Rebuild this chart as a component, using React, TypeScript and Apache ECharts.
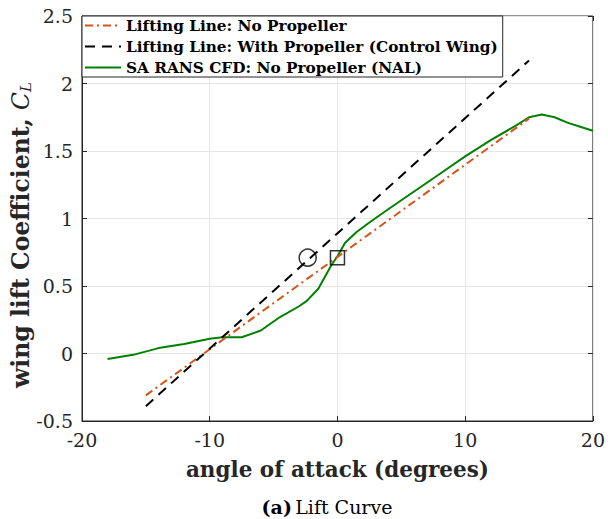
import React, { useEffect, useRef } from "react";
import * as echarts from "echarts";

const llNoProp: number[][] = [[-15, -0.31], [15, 1.74]];
const llWithProp: number[][] = [[-15, -0.39], [15, 2.17]];
const cfdNoProp: number[][] = [
  [-18, -0.04], [-16, -0.01], [-14, 0.04], [-12, 0.07], [-10, 0.11], [-9, 0.12],
  [-7.5, 0.12], [-6, 0.17], [-4.5, 0.27], [-3, 0.35], [-2.4, 0.39], [-1.5, 0.48],
  [-0.5, 0.65], [0, 0.72], [0.6, 0.82], [1.5, 0.9], [2.5, 0.97], [4, 1.07],
  [6, 1.2], [8, 1.33], [10, 1.46], [12, 1.58], [14, 1.69], [15, 1.75], [16, 1.77],
  [17, 1.75], [18, 1.71], [19, 1.68], [20, 1.65],
];
const circleMarker: number[][] = [[-2.33, 0.71]];
const squareMarker: number[][] = [[0, 0.71]];
const seriesNames = [
  "Lifting Line: No Propeller",
  "Lifting Line: With Propeller (Control Wing)",
  "SA RANS CFD: No Propeller (NAL)",
];

const FONT = "'DejaVu Serif', serif";

export default function App() {
  const ref = useRef<HTMLDivElement>(null);
  useEffect(() => {
    if (!ref.current) return;
    const chart = echarts.init(ref.current, undefined, { renderer: "svg" });
    const tickLabel = { fontFamily: FONT, fontSize: 19, color: "#262626" };
    chart.setOption({
      animation: false,
      backgroundColor: "#fff",
      grid: { left: 82, right: 12, top: 16, bottom: 98, show: true, borderColor: "#262626", borderWidth: 1, backgroundColor: "transparent" },
      legend: {
        data: seriesNames,
        orient: "vertical",
        left: 82,
        top: 16,
        itemWidth: 36,
        itemHeight: 14,
        itemGap: 6,
        padding: [2, 5, 2, 2],
        backgroundColor: "#fff",
        borderColor: "#262626",
        borderWidth: 1,
        itemStyle: { opacity: 0 },
        textStyle: { fontFamily: FONT, fontSize: 15.3, fontWeight: "bold", color: "#000" },
      },
      xAxis: [
        {
          type: "value", min: -20, max: 20, interval: 10,
          axisLine: { show: true, onZero: false, lineStyle: { color: "#262626" } },
          axisTick: { show: true, inside: true, length: 5, lineStyle: { color: "#262626" } },
          axisLabel: { ...tickLabel, margin: 9 },
          splitLine: { show: true, lineStyle: { color: "#e6e6e6" } },
          name: "angle of attack (degrees)",
          nameLocation: "middle",
          nameGap: 37,
          nameTextStyle: { fontFamily: FONT, fontSize: 21.5, fontWeight: "bold", color: "#262626" },
        },
        {
          type: "value", position: "top", min: -20, max: 20, interval: 10,
          axisLine: { show: false, onZero: false },
          axisTick: { show: true, inside: true, length: 5, lineStyle: { color: "#262626" } },
          axisLabel: { show: false },
          splitLine: { show: false },
        },
      ],
      yAxis: [
        {
          type: "value", min: -0.5, max: 2.5, interval: 0.5,
          axisLine: { show: true, onZero: false, lineStyle: { color: "#262626" } },
          axisTick: { show: true, inside: true, length: 5, lineStyle: { color: "#262626" } },
          axisLabel: { ...tickLabel, margin: 9, formatter: (v: number) => String(v) },
          splitLine: { show: true, lineStyle: { color: "#e6e6e6" } },
        },
        {
          type: "value", position: "right", min: -0.5, max: 2.5, interval: 0.5,
          axisLine: { show: false, onZero: false },
          axisTick: { show: true, inside: true, length: 5, lineStyle: { color: "#262626" } },
          axisLabel: { show: false },
          splitLine: { show: false },
        },
      ],
      series: [
        {
          name: seriesNames[0], type: "line", data: llNoProp, symbol: "none", z: 3,
          lineStyle: { color: "#D95319", width: 2, type: [8, 4, 2, 4] },
          itemStyle: { color: "#D95319" },
        },
        {
          name: seriesNames[1], type: "line", data: llWithProp, symbol: "none", z: 3,
          lineStyle: { color: "#000", width: 2, type: [10, 7] },
          itemStyle: { color: "#000" },
        },
        {
          name: seriesNames[2], type: "line", data: cfdNoProp, symbol: "none", z: 2,
          lineStyle: { color: "#008000", width: 2, type: "solid" },
          itemStyle: { color: "#008000" },
        },
        {
          name: "circle", type: "scatter", data: circleMarker, symbol: "circle", symbolSize: 17, z: 4,
          itemStyle: { color: "rgba(0,0,0,0)", borderColor: "#000", borderWidth: 1.5 },
        },
        {
          name: "square", type: "scatter", data: squareMarker, symbol: "rect", symbolSize: 14, z: 4,
          itemStyle: { color: "rgba(0,0,0,0)", borderColor: "#000", borderWidth: 1.5 },
        },
      ],
      graphic: [
        {
          type: "text",
          x: 21,
          y: 235,
          rotation: Math.PI / 2,
          style: {
            text: "{b|wing lift Coefficient, }{i|C}{s|L}",
            align: "center",
            verticalAlign: "middle",
            rich: {
              b: { fontFamily: FONT, fontSize: 23.5, fontWeight: "bold", fill: "#262626" },
              i: { fontFamily: FONT, fontSize: 23.5, fontStyle: "italic", fill: "#262626" },
              s: { fontFamily: FONT, fontSize: 15, fontStyle: "italic", fill: "#262626", padding: [10, 0, 0, 0] },
            },
          },
        },
        {
          type: "text",
          x: 327,
          y: 507,
          style: {
            text: "{b|(a)} {r|Lift Curve}",
            align: "center",
            verticalAlign: "middle",
            rich: {
              b: { fontFamily: FONT, fontSize: 19, fontWeight: "bold", fill: "#000" },
              r: { fontFamily: FONT, fontSize: 19, fill: "#000" },
            },
          },
        },
      ],
    });
    return () => chart.dispose();
  }, []);
  return <div ref={ref} style={{ width: 608, height: 519, position: "absolute", left: 0, top: 0 }} />;
}
